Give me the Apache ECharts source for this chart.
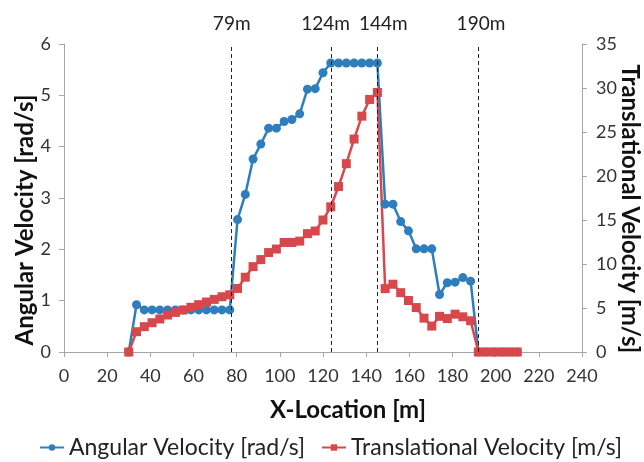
<!DOCTYPE html>
<html lang="en">
<head>
    <meta charset="UTF-8">
    <title>Angular / Translational Velocity</title>
    <style>
        html, body { margin: 0; padding: 0; background: #fff; }
        #main { width: 644px; height: 462px; }
    </style>
</head>
<body>
    <div id="main"></div>
    <script src="https://cdn.jsdelivr.net/npm/echarts@6/dist/echarts.min.js"></script>
    <script>
        // x positions [m]
        var xLoc = [30, 33.6, 37.2, 40.8, 44.4, 48, 51.6, 55.2, 58.8, 62.4, 66, 69.6, 73.2, 76.8,
            80.4, 84, 87.6, 91.2, 94.8, 98.4, 102, 105.6, 109.2, 112.8, 116.4, 120, 123.6,
            127.2, 130.8, 134.4, 138, 141.6, 145.2, 148.8, 152.4, 156, 159.6, 163.2, 166.8,
            170.4, 174, 177.6, 181.2, 184.8, 188.4, 192, 195.6, 199.2, 202.8, 206.4, 210];
        // angular velocity [rad/s]
        var angular = [0, 0.92, 0.82, 0.82, 0.82, 0.82, 0.82, 0.82, 0.82, 0.82, 0.82, 0.82, 0.82, 0.82,
            2.58, 3.07, 3.76, 4.05, 4.36, 4.36, 4.49, 4.53, 4.64, 5.12, 5.13, 5.44, 5.63,
            5.63, 5.63, 5.63, 5.63, 5.63, 5.63, 2.88, 2.88, 2.54, 2.36, 2.01, 2.01, 2.01,
            1.12, 1.35, 1.36, 1.45, 1.38, 0, 0, 0, 0, 0, 0];
        // translational velocity [m/s]
        var translational = [0, 2.31, 2.88, 3.33, 3.75, 4.2, 4.5, 4.77, 5.08, 5.38, 5.68, 5.98, 6.28, 6.5,
            7.22, 8.5, 9.7, 10.5, 11.3, 11.7, 12.45, 12.45, 12.6, 13.45, 13.75, 15.0, 16.5,
            18.8, 21.4, 24.2, 26.8, 28.7, 29.5, 7.2, 7.7, 6.74, 5.85, 5.05, 3.85, 2.95,
            4.05, 3.8, 4.3, 4.0, 3.55, 0, 0, 0, 0, 0, 0];
        // marked positions
        var markX = [77.7, 124, 145.2, 191.8];
        var markLabels = ['79m', '124m', '144m', '190m'];
        var markShift = [0, -6, 6, 3];

        var FONT = 'Lato';
        var BLUE = '#2e7ebd';
        var RED = '#d6484b';

        function pairs(ys) {
            return xLoc.map(function (x, i) { return [x, ys[i]]; });
        }

        // axis titles placed like the original (not centred on the plot)
        function title(text, x, y, rot, size) {
            return {
                type: 'text', x: x, y: y, rotation: rot,
                style: { text: text, font: 'bold ' + size + 'px ' + FONT, fill: '#111', align: 'center', verticalAlign: 'middle' }
            };
        }

        var axisGray = { show: true, lineStyle: { color: '#a6a6a6', width: 1 } };
        var tickGray = { show: true, length: 5, lineStyle: { color: '#a6a6a6' } };

        echarts.init(document.getElementById('main')).setOption({
            animation: false,
            textStyle: { fontFamily: FONT },
            grid: { left: 64, right: 62, top: 44, bottom: 110, outerBoundsMode: 'none' },
            graphic: [
                title('Angular Velocity [rad/s]', 25, 220, Math.PI / 2, 24),
                title('Translational Velocity [m/s]', 630, 209, -Math.PI / 2, 24),
                title('X-Location [m]', 348, 410, 0, 24)
            ],
            legend: {
                left: 34,
                top: 431,
                itemWidth: 24,
                itemHeight: 8,
                itemGap: 16,
                textStyle: { fontFamily: FONT, fontSize: 23, color: '#222' },
                data: ['Angular Velocity [rad/s]', 'Translational Velocity [m/s]']
            },
            xAxis: {
                type: 'value',
                min: 0, max: 240, interval: 20,
                axisLine: axisGray,
                axisTick: tickGray,
                axisLabel: { fontFamily: FONT, fontSize: 18, color: '#333', margin: 15 },
                splitLine: { show: false }
            },
            yAxis: [{
                type: 'value',
                min: 0, max: 6, interval: 1,
                axisLine: axisGray,
                axisTick: tickGray,
                axisLabel: { fontFamily: FONT, fontSize: 18, color: '#333', margin: 13 },
                splitLine: { show: false }
            }, {
                type: 'value',
                position: 'right',
                min: 0, max: 35, interval: 5,
                axisLine: axisGray,
                axisTick: tickGray,
                axisLabel: { fontFamily: FONT, fontSize: 18, color: '#333', margin: 14 },
                splitLine: { show: false }
            }],
            series: [{
                name: 'Angular Velocity [rad/s]',
                type: 'line',
                yAxisIndex: 0,
                data: pairs(angular),
                symbol: 'circle',
                symbolSize: 9,
                itemStyle: { color: BLUE },
                lineStyle: { color: BLUE, width: 2.5 },
                markLine: {
                    silent: true,
                    symbol: 'none',
                    lineStyle: { color: '#222', width: 1, type: [4, 3] },
                    label: {
                        show: true,
                        position: 'end',
                        fontFamily: FONT,
                        fontSize: 19,
                        color: '#222',
                        distance: 11,
                        formatter: function (p) { return p.name; }
                    },
                    data: markX.map(function (x, i) {
                        return { xAxis: x, name: markLabels[i], label: { offset: [markShift[i], 0] } };
                    })
                }
            }, {
                name: 'Translational Velocity [m/s]',
                type: 'line',
                yAxisIndex: 1,
                data: pairs(translational),
                symbol: 'rect',
                symbolSize: 9,
                itemStyle: { color: RED },
                lineStyle: { color: RED, width: 2.5 }
            }]
        });
    </script>
</body>
</html>
